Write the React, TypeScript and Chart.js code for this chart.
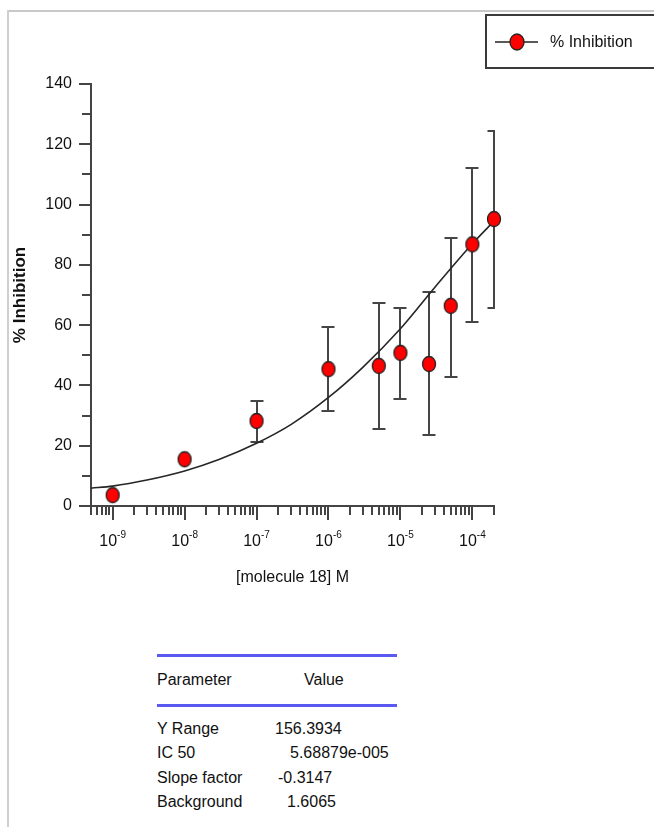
import React, { useEffect, useRef } from 'react';
import { Chart, registerables } from 'chart.js';

Chart.register(...registerables);

const FONT = '"Liberation Sans", Arial, Helvetica, sans-serif';

// Measured points
const concentrations = [1e-9, 1e-8, 1e-7, 1e-6, 5e-6, 1e-5, 2.5e-5, 5e-5, 1e-4, 2e-4];
const inhibition = [3.6, 15.5, 28.2, 45.4, 46.5, 50.8, 47.1, 66.4, 86.8, 95.2];
const errLower: (number | null)[] = [null, null, 21.3, 31.5, 25.6, 35.4, 23.4, 42.9, 61.2, 65.6];
const errUpper: (number | null)[] = [null, null, 34.9, 59.3, 67.2, 65.8, 70.9, 89.0, 112.0, 124.4];

// Fitted curve
const fitX = [5e-10, 1e-9, 3e-9, 1e-8, 3e-8, 1e-7, 3e-7, 1e-6, 3e-6, 1e-5, 3e-5, 1e-4, 2e-4];
const fitY = [5.9, 6.6, 8.6, 11.6, 15.4, 20.8, 27.0, 36.0, 46.0, 58.8, 72.5, 87.0, 94.5];

// Axes
const xMin = 5e-10;
const xMax = 2e-4;
const xDecades = [1e-9, 1e-8, 1e-7, 1e-6, 1e-5, 1e-4];
const xDecadeExponents = ['-9', '-8', '-7', '-6', '-5', '-4'];
const xMinorMultipliers = [2, 3, 4, 5, 6, 7, 8, 9];
const yMin = 0;
const yMax = 140;
const yMajorTicks = [0, 20, 40, 60, 80, 100, 120, 140];
const yMinorTicks = [10, 30, 50, 70, 90, 110, 130];

const seriesLabel = '% Inhibition';
const xTitle = '[molecule 18] M';
const yTitle = '% Inhibition';

// Parameter table
const paramNames = ['Y Range', 'IC 50', 'Slope factor', 'Background'];
const paramValues = ['156.3934', '5.68879e-005', '-0.3147', '1.6065'];
const paramValueLefts = [275, 290, 278, 287];
const paramRowCenters = [729, 753, 778, 802];

function makeEllipse(rx: number, ry: number, fill: string, stroke: string, lw: number) {
  const c = document.createElement('canvas');
  c.width = Math.ceil(rx * 2 + lw * 2 + 2);
  c.height = Math.ceil(ry * 2 + lw * 2 + 2);
  const ctx = c.getContext('2d')!;
  ctx.beginPath();
  ctx.ellipse(c.width / 2, c.height / 2, rx, ry, 0, 0, Math.PI * 2);
  ctx.fillStyle = fill;
  ctx.fill();
  ctx.lineWidth = lw;
  ctx.strokeStyle = stroke;
  ctx.stroke();
  return c;
}

const AXIS_COLOR = '#444';
const TEXT_COLOR = '#111';

const customPlugin = {
  id: 'customDraw',
  beforeDatasetsDraw(chart: any) {
    const { ctx, chartArea } = chart;
    const xs = chart.scales.x;
    const ys = chart.scales.y;
    ctx.save();
    ctx.beginPath();
    ctx.rect(chartArea.left, 0, chartArea.right - chartArea.left + 1, chart.height);
    ctx.clip();
    ctx.strokeStyle = '#454545';
    ctx.lineWidth = 2;
    for (let i = 0; i < concentrations.length; i++) {
      const lo = errLower[i];
      const hi = errUpper[i];
      if (lo == null || hi == null) continue;
      const x = Math.round(xs.getPixelForValue(concentrations[i]));
      const yl = Math.round(ys.getPixelForValue(lo));
      const yh = Math.round(ys.getPixelForValue(hi));
      ctx.beginPath();
      ctx.moveTo(x, yl);
      ctx.lineTo(x, yh);
      ctx.moveTo(x - 6.5, yl);
      ctx.lineTo(x + 6.5, yl);
      ctx.moveTo(x - 6.5, yh);
      ctx.lineTo(x + 6.5, yh);
      ctx.stroke();
    }
    ctx.restore();
  },
  afterDraw(chart: any) {
    const { ctx, chartArea } = chart;
    const xs = chart.scales.x;
    const ys = chart.scales.y;
    ctx.save();
    ctx.strokeStyle = AXIS_COLOR;
    ctx.lineWidth = 2;
    // y ticks
    ctx.beginPath();
    for (const v of yMajorTicks) {
      const y = Math.round(ys.getPixelForValue(v));
      ctx.moveTo(chartArea.left - 12, y);
      ctx.lineTo(chartArea.left, y);
    }
    for (const v of yMinorTicks) {
      const y = Math.round(ys.getPixelForValue(v));
      ctx.moveTo(chartArea.left - 9, y);
      ctx.lineTo(chartArea.left, y);
    }
    // x ticks
    const b = chartArea.bottom;
    for (const d of xDecades) {
      const x = Math.round(xs.getPixelForValue(d));
      ctx.moveTo(x, b);
      ctx.lineTo(x, b + 14);
    }
    const eLo = Math.floor(Math.log10(xMin));
    const eHi = Math.ceil(Math.log10(xMax));
    for (let e = eLo; e <= eHi; e++) {
      for (const m of xMinorMultipliers) {
        const v = m * Math.pow(10, e);
        if (v < xMin * 0.999 || v > xMax * 1.001) continue;
        const x = Math.round(xs.getPixelForValue(v));
        ctx.moveTo(x, b);
        ctx.lineTo(x, b + 9);
      }
    }
    ctx.stroke();

    // x decade labels with superscripts
    ctx.fillStyle = TEXT_COLOR;
    ctx.textBaseline = 'alphabetic';
    ctx.textAlign = 'left';
    for (let i = 0; i < xDecades.length; i++) {
      const px = xs.getPixelForValue(xDecades[i]);
      ctx.font = `16px ${FONT}`;
      const w1 = ctx.measureText('10').width;
      ctx.font = `10px ${FONT}`;
      const w2 = ctx.measureText(xDecadeExponents[i]).width;
      const start = px - (w1 + w2) / 2;
      ctx.font = `16px ${FONT}`;
      ctx.fillText('10', start, 546);
      ctx.font = `10px ${FONT}`;
      ctx.fillText(xDecadeExponents[i], start + w1, 538);
    }

    // legend
    ctx.lineWidth = 2;
    ctx.strokeStyle = '#3a3a3a';
    ctx.strokeRect(486, 15, 220, 53);
    ctx.beginPath();
    ctx.lineWidth = 1.5;
    ctx.strokeStyle = '#222';
    ctx.moveTo(495, 42);
    ctx.lineTo(538, 42);
    ctx.stroke();
    ctx.beginPath();
    ctx.ellipse(517, 42, 7, 8, 0, 0, Math.PI * 2);
    ctx.fillStyle = '#ff0000';
    ctx.fill();
    ctx.lineWidth = 1.3;
    ctx.strokeStyle = '#222';
    ctx.stroke();
    ctx.fillStyle = TEXT_COLOR;
    ctx.font = `16px ${FONT}`;
    ctx.textBaseline = 'middle';
    ctx.fillText(chart.data.datasets[0].label, 550, 43);
    ctx.restore();
  },
};

function ChartView() {
  const ref = useRef<HTMLCanvasElement>(null);
  useEffect(() => {
    if (!ref.current) return;
    const marker = makeEllipse(6.5, 7.5, '#ff0000', '#222', 1.3);
    const chart = new Chart(ref.current, {
      type: 'line',
      data: {
        datasets: [
          {
            label: seriesLabel,
            data: concentrations.map((x, i) => ({ x, y: inhibition[i] })),
            showLine: false,
            pointStyle: marker as any,
            pointRadius: 8,
            clip: false as any,
          },
          {
            label: 'fit',
            data: fitX.map((x, i) => ({ x, y: fitY[i] })),
            borderColor: '#262626',
            borderWidth: 1.6,
            pointRadius: 0,
            cubicInterpolationMode: 'monotone',
            fill: false,
          },
        ],
      },
      options: {
        animation: false,
        responsive: false,
        devicePixelRatio: 1,
        layout: { padding: { left: 8, right: 160, top: 84, bottom: 0 } },
        plugins: { legend: { display: false }, tooltip: { enabled: false } },
        scales: {
          x: {
            type: 'logarithmic',
            min: xMin,
            max: xMax,
            grid: { display: false, drawTicks: false },
            border: { display: true, color: AXIS_COLOR, width: 2 },
            ticks: { display: false },
            title: {
              display: true,
              text: xTitle,
              color: TEXT_COLOR,
              font: { family: FONT, size: 16 },
              padding: { top: 0, bottom: 33 },
            },
            afterFit: (s: any) => {
              s.height = 114;
            },
          },
          y: {
            type: 'linear',
            min: yMin,
            max: yMax,
            grid: { display: false, drawTicks: true, tickLength: 12 },
            border: { display: true, color: AXIS_COLOR, width: 2 },
            ticks: {
              stepSize: 20,
              color: TEXT_COLOR,
              padding: 7,
              font: { family: FONT, size: 16 },
            },
            title: {
              display: true,
              text: yTitle,
              color: TEXT_COLOR,
              font: { family: FONT, size: 17, weight: 'bold' },
              padding: { top: 2, bottom: 0 },
            },
            afterFit: (s: any) => {
              s.width = 83;
            },
          },
        },
      } as any,
      plugins: [customPlugin],
    });
    return () => chart.destroy();
  }, []);
  return (
    <canvas
      ref={ref}
      width={654}
      height={620}
      style={{ position: 'absolute', left: 0, top: 0, width: 654, height: 620 }}
    />
  );
}

export default function App() {
  const text: React.CSSProperties = {
    position: 'absolute',
    fontSize: 16,
    lineHeight: '20px',
    color: TEXT_COLOR,
    whiteSpace: 'nowrap',
  };
  return (
    <div
      style={{
        position: 'absolute',
        left: 0,
        top: 0,
        width: 654,
        height: 827,
        background: '#fff',
        fontFamily: FONT,
        overflow: 'hidden',
      }}
    >
      <div style={{ position: 'absolute', left: 7, top: 10, width: 647, height: 2, background: '#c8c8c8' }} />
      <div style={{ position: 'absolute', left: 7, top: 10, width: 2, height: 817, background: '#cfcfcf' }} />
      <ChartView />
      <div style={{ position: 'absolute', left: 157, top: 654, width: 240, height: 3, background: '#5a5af2' }} />
      <div style={{ position: 'absolute', left: 157, top: 704, width: 240, height: 3, background: '#5a5af2' }} />
      <span style={{ ...text, left: 157, top: 670 }}>Parameter</span>
      <span style={{ ...text, left: 304, top: 670 }}>Value</span>
      {paramNames.map((n, i) => (
        <React.Fragment key={n}>
          <span style={{ ...text, left: 157, top: paramRowCenters[i] - 10 }}>{n}</span>
          <span style={{ ...text, left: paramValueLefts[i], top: paramRowCenters[i] - 10 }}>{paramValues[i]}</span>
        </React.Fragment>
      ))}
    </div>
  );
}
